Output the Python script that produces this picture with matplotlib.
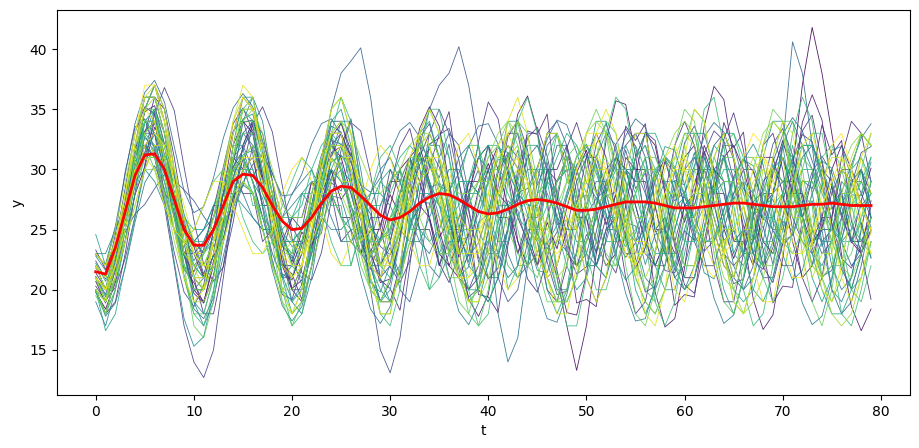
import numpy as np
import matplotlib
matplotlib.use('Agg')
import matplotlib.pyplot as plt

t = list(range(80))

# mean of all runs (red line)
mean_y = [21.5, 21.3, 23.5, 26.5, 29.5, 31.2, 31.3, 30.0, 27.5, 25.0,
          23.7, 23.7, 25.0, 27.0, 29.0, 29.6, 29.5, 28.5, 27.0, 25.7,
          25.0, 25.1, 26.0, 27.2, 28.2, 28.6, 28.5, 27.8, 27.0, 26.2,
          25.8, 26.0, 26.5, 27.2, 27.7, 28.0, 27.9, 27.5, 27.0, 26.5,
          26.3, 26.4, 26.7, 27.1, 27.4, 27.5, 27.4, 27.2, 26.9, 26.6,
          26.6, 26.7, 26.9, 27.1, 27.3, 27.3, 27.3, 27.2, 27.0, 26.8,
          26.8, 26.8, 26.9, 27.0, 27.1, 27.2, 27.2, 27.1, 27.0, 26.9,
          26.9, 26.9, 27.0, 27.1, 27.1, 27.2, 27.1, 27.0, 27.0, 27.0]

# single runs
runs = [
    [20,18,21,26,31,35,37,34,29,24, 20,19,22,27,32,34,33,29,25,22,
     21,23,27,30,32,31,28,25,23,24, 27,30,31,29,26,23,22,24,28,31,
     32,30,27,24,22,23,26,29,31,30, 27,24,22,23,27,31,33,32,28,24,
     21,21,24,28,31,32,30,27,24,23, 26,30,37,41.8,38,33,28,24,23,25],
    [19.8,18.4,20.6,24.1,27.9,30.2,33.5,32.1,29.4,25.2, 23.6,21.1,22.8,24.3,27.6,30.9,29.4,30.8,27.1,24.5,
     22.3,24.8,23.6,27.2,29.9,27.5,28.7,25.9,23.1,25.4, 27.9,26.2,29.8,31.4,28.6,24.3,25.9,22.7,24.6,28.3,
     30.5,27.9,31.2,28.4,24.7,22.1,25.6,23.4,26.8,29.7, 31.6,28.2,25.4,27.9,24.3,21.8,23.5,26.9,30.7,28.1,
     25.6,28.8,31.5,29.2,25.1,22.6,24.9,27.3,25.8,29.6, 32.4,29.5,26.1,23.7,25.2,28.6,26.3,23.9,27.4,30.1],
    [21,19,22,27,32,36,36,33,28,23, 20,20,23,28,33,36,35,31,26,22,
     20,22,26,30,33,33,30,26,23,22, 24,28,31,32,29,25,22,21,23,27,
     30,32,30,26,24,22,24,21,17,13.3, 17,23,28,31,30,27,24,22,24,28,
     31,32,29,25,22,21,24,28,31,31, 28,24,21,22,26,30,32,30,27,25],
    [20.7,18.9,21.6,26.3,31.2,34.8,35.3,32.1,27.6,22.9, 19.7,18.9,21.2,25.8,30.6,33.9,34.1,31.2,26.7,22.4,
     20.1,20.8,24.3,28.9,32.7,33.8,31.6,27.3,23.1,20.6, 20.9,24.2,29.1,33.4,35.2,33.6,28.9,23.4,19.2,17.8,
     19.6,24.3,30.1,34.6,36.1,33.2,27.4,21.6,18.1,17.9, 21.3,26.8,32.4,35.7,35.4,31.2,25.3,19.8,16.9,17.6,
     21.8,27.9,33.6,36.9,35.8,30.9,24.6,19.2,16.7,17.9, 22.6,28.4,33.9,36.2,34.1,28.7,22.9,18.6,16.6,18.4],
    [22,20,23,25,30,31,34,30,28,23, 23,21,25,26,31,30,31,27,27,24,
     26,25,29,28,30,26,26,23,25,25, 29,29,31,27,26,22,24,24,29,29,
     32,28,27,23,25,25,30,30,32,27, 26,22,25,26,31,30,30,25,25,23,
     27,28,32,30,29,24,24,22,27,28, 31,28,28,24,26,26,30,29,30,26],
    [21.4,20.1,22.7,27.4,31.8,33.2,33.9,29.8,26.4,21.7, 20.6,18.9,22.4,25.1,30.2,31.6,33.7,29.4,27.6,22.1,
     21.3,19.2,23.6,25.8,31.4,31.9,34.2,28.7,26.9,20.8, 20.1,18.3,23.2,26.4,32.1,32.6,34.8,28.9,25.7,19.6,
     19.4,18.1,23.7,27.3,33.2,32.9,34.6,27.8,24.6,18.9, 19.2,18.6,24.4,28.1,33.6,32.4,33.8,26.9,23.8,18.7,
     19.6,19.4,25.2,28.9,33.9,31.8,33.1,26.2,23.4,18.9, 20.3,20.2,25.9,29.3,33.7,31.2,32.4,25.7,23.1,19.2],
    [20,18,19,23,28,33,36,35,31,26, 21,18,18,22,27,32,34,33,29,24,
     20,19,22,27,31,33,31,27,22,19, 19,22,27,31,33,31,27,22,20,21,
     25,30,33,33,29,24,20,19,22,27, 31,33,31,26,21,18,19,23,28,32,
     34,32,27,22,19,19,23,28,32,33, 30,25,21,19,21,26,31,34,33,29],
    [23.3,21.7,23.9,28.4,33.1,35.2,34.6,30.3,26.1,22.8, 21.5,23.4,26.7,30.2,33.8,35.1,33.2,29.4,24.6,21.3,
     20.8,23.7,27.9,31.2,32.6,29.8,26.4,23.1,21.7,24.2, 28.5,31.9,33.4,30.1,25.8,22.2,20.6,22.9,27.5,32.3,
     35.6,34.2,29.7,24.1,20.9,19.8,22.6,27.3,31.8,33.9, 31.2,26.5,22.7,21.4,24.8,29.6,33.1,32.4,28.3,23.6,
     20.4,19.7,23.2,28.1,32.5,34.7,31.6,26.2,21.9,20.6, 23.8,28.9,33.2,34.5,30.6,25.3,21.7,20.1,22.9,27.4],
    [23,22,25,27,32,32,33,28,27,23, 24,23,27,27,30,28,28,24,25,23,
     26,26,29,27,28,24,25,23,26,26, 30,28,29,25,25,22,25,25,29,28,
     30,26,26,23,26,26,30,29,30,26, 26,23,26,26,30,29,29,25,26,24,
     27,27,30,28,28,24,25,24,28,28, 31,28,28,24,25,25,28,28,30,27],
    [20.3,19.1,20.2,22.6,26.1,30.4,34.6,36.8,34.9,30.2, 25.8,22.1,20.7,21.9,25.6,30.1,33.8,35.2,33.1,28.7,
     24.3,21.4,20.8,23.1,27.4,31.6,33.9,33.2,29.6,25.1, 21.9,20.6,22.4,26.3,30.2,32.9,33.4,30.8,26.5,22.7,
     20.9,21.8,25.2,29.4,32.6,33.5,31.1,27.2,23.4,21.3, 21.9,24.8,28.7,32.1,33.4,31.9,28.3,24.2,21.6,21.4,
     23.9,27.8,31.3,33.2,32.4,29.1,25.3,22.4,21.7,23.5, 27.2,30.8,32.9,32.3,29.4,25.6,22.6,21.8,23.6,26.9],
    [21,19,21,25,29,32,31,27,22,17, 14,12.7,15,21,27,32,34,32,28,23,
     20,20,23,28,32,33,31,27,23,21, 22,25,29,31,31,28,24,21,20,22,
     26,30,32,31,27,23,21,22,25,29, 31,31,28,25,23,23,26,29,31,30,
     27,24,22,22,25,28,30,30,27,24, 22,22,25,28,30,29,26,24,24,26],
    [22.4,20.9,24.6,29.8,33.5,34.2,31.6,27.3,23.1,19.8, 18.6,20.4,24.9,29.6,33.2,34.1,31.3,26.8,22.4,19.6,
     19.2,21.8,26.1,30.5,33.6,33.1,29.4,24.7,20.9,19.1, 20.6,24.3,28.9,32.6,33.8,30.9,26.2,21.7,19.4,20.1,
     23.8,28.6,32.7,34.1,31.6,26.9,22.3,19.6,19.9,23.2, 27.9,32.1,33.8,31.5,27.2,22.6,19.8,20.3,23.9,28.4,
     32.2,33.6,31.4,27.3,23.1,20.5,20.9,24.3,28.6,32.1, 33.4,31.2,27.4,23.5,21.1,21.6,24.8,28.7,31.4,31.9],
    [22,20,22,26,29,31,31,29,26,24, 23,24,26,29,31,31,29,26,23,21,
     21,23,27,31,34,34,31,26,20,15, 13.1,16,22,28,33,35,33,29,24,20,
     19,21,25,30,33,33,30,26,23,22, 24,27,30,31,29,26,23,22,24,27,
     30,31,29,26,23,22,23,26,29,30, 29,26,24,23,25,28,30,30,28,26],
    [21.8,21.2,22.9,24.8,26.3,27.1,28.4,29.6,29.1,28.3, 27.4,26.1,24.9,25.6,26.8,28.9,30.4,31.2,29.7,27.5,
     25.2,23.8,24.6,26.9,29.3,31.1,30.6,28.2,25.4,23.6, 22.9,24.7,27.8,30.4,31.7,30.2,27.1,24.3,22.8,23.9,
     26.5,29.8,31.4,30.1,27.2,24.6,23.4,24.8,27.6,30.3, 31.9,30.4,27.3,24.1,22.7,23.9,26.8,29.5,30.8,29.6,
     27.1,24.5,23.2,24.1,26.7,29.4,30.9,29.8,27.3,24.9, 23.7,24.6,27.2,29.8,31.1,29.7,26.9,24.3,23.1,24.8],
    [21,20,23,27,30,32,31,28,25,23, 22,23,25,28,30,31,29,26,24,22,
     22,24,27,29,30,29,27,24,22,21, 23,26,29,32,35,37,38,40.2,37,32,
     26,21,19,20,24,29,33,34,32,28, 22,22,25,29,32,33,31,27,23,21,
     22,25,29,32,33,31,27,23,21,21, 24,28,31,32,30,27,24,22,23,26],
    [21.1,19.6,22.4,25.8,30.7,31.4,34.9,31.2,29.8,25.4, 24.1,21.3,23.7,23.9,27.8,28.6,31.9,28.4,27.1,23.6,
     22.8,20.4,23.9,24.7,28.9,28.2,31.4,27.6,26.3,22.1, 23.5,21.2,25.6,26.8,30.9,29.3,32.1,27.4,26.8,22.3,
     24.1,22.6,26.9,27.4,31.2,28.7,30.6,25.4,25.8,21.9, 24.6,23.2,27.8,28.1,31.6,28.4,29.7,24.8,25.2,21.6,
     24.9,24.1,28.6,28.3,31.2,27.5,28.9,24.1,25.3,22.1, 25.7,24.9,29.1,28.4,30.8,26.7,28.1,23.9,25.6,22.7],
    [22,21,23,26,30,33,34,32,28,24, 21,20,22,26,30,33,34,32,29,26,
     24,24,27,31,35,38,39,40.1,36,30, 24,20,19,22,27,31,33,32,28,24,
     21,21,24,28,31,32,30,27,24,22, 23,26,29,31,30,27,24,22,22,25,
     28,30,30,27,24,21,20,22,26,30, 32,31,28,25,23,24,26,29,30,28],
    [20,19,22,26,31,34,34,31,27,23, 21,21,24,28,31,33,32,29,26,24,
     24,25,27,28,28,26,24,23,24,27, 29,30,28,25,22,21,23,26,29,31,
     30,27,23,21,22,25,29,32,32,29, 25,22,21,24,28,31,32,29,25,22,
     20,21,25,29,32,32,29,25,22,25, 32,40.6,38,32,25,20,18,19,22,26],
    [22.9,22.1,25.3,29.6,33.8,36.4,37.4,35.6,31.9,28.2, 26.4,26.9,29.3,32.6,35.1,36.3,35.2,32.4,29.6,27.8,
     27.9,29.6,32.1,33.8,34.2,32.9,30.6,28.7,28.1,29.3, 31.4,33.2,33.9,32.7,30.4,28.6,28.2,29.7,31.9,33.6,
     33.8,32.1,29.7,28.1,28.4,30.2,32.5,34.1,33.7,31.4, 28.9,27.6,28.3,30.4,32.8,34.2,33.5,31.2,28.7,27.4,
     28.1,30.3,32.7,33.9,33.1,30.8,28.4,27.3,28.2,30.6, 32.9,34.3,33.2,30.7,28.3,27.2,28.1,30.4,32.6,33.8],
    [21,20,22,27,31,34,33,30,26,22, 20,21,24,28,31,32,30,27,24,22,
     22,24,27,30,31,30,27,24,22,22, 24,27,30,31,29,26,23,24,28,30,
     25,18,14,16,22,28,32,33,30,26, 23,22,24,27,30,30,28,25,23,23,
     25,28,30,30,28,25,23,23,25,28, 29,29,27,25,24,25,27,29,29,27],
    [22,21,24,27,31,33,33,30,27,25, 24,25,26,28,29,28,26,25,25,26,
     28,29,30,28,26,24,24,25,28,30, 31,29,26,24,23,25,28,31,32,30,
     26,23,21,22,26,30,33,33,30,25, 21,19,21,25,30,33,33,29,25,21,
     20,22,26,30,31,29,26,23,22,24, 28,31,32,30,26,22,20,21,25,29],
    [19.9,17.8,18.9,21.8,25.6,28.9,30.3,28.4,24.9,21.2, 18.4,17.6,19.3,22.8,26.4,28.7,28.1,25.2,21.6,18.7,
     17.4,18.6,21.9,25.3,27.8,27.6,24.9,21.3,18.4,17.2, 18.6,21.7,25.1,27.3,27.2,24.6,21.1,18.2,17.1,18.9,
     22.3,25.6,27.4,26.6,23.6,20.1,17.6,17.3,19.6,23.1, 26.2,27.6,26.3,23.1,19.7,17.4,17.6,20.4,23.9,26.8,
     27.7,25.9,22.6,19.3,17.2,17.9,20.9,24.4,27.1,27.5, 25.4,22.1,18.9,17.1,17.8,20.8,24.2,26.9,27.3,25.2],
    [19,17,20,25,30,35,37,35,30,24, 19,17,19,24,29,34,36,34,29,23,
     19,18,21,26,31,34,34,30,25,21, 19,21,25,29,32,32,29,25,22,21,
     23,27,31,33,31,27,23,20,20,23, 27,31,33,32,28,24,21,20,22,26,
     30,33,33,30,26,22,20,21,24,28, 32,34,32,28,24,20,19,21,25,29],
    [22.8,21.6,23.2,26.9,30.1,32.8,31.4,29.6,26.2,24.9, 22.4,23.8,25.1,28.6,29.3,31.7,28.9,27.6,24.1,23.8,
     22.6,25.3,26.4,29.7,29.1,30.6,26.8,25.9,22.7,24.3, 24.6,28.2,28.1,31.3,28.4,28.9,24.6,24.8,22.3,25.6,
     26.3,30.1,28.9,31.6,27.1,26.8,22.9,24.1,23.2,27.4, 27.9,31.2,28.6,30.4,25.6,25.3,22.1,24.6,24.9,29.1,
     28.7,31.4,27.2,28.6,24.1,24.9,22.8,26.3,26.7,30.4, 28.9,30.6,26.1,27.4,23.6,25.2,24.1,27.9,27.8,30.6],
    [23,23,25,27,29,30,29,27,25,24, 24,25,27,28,28,27,26,25,25,26,
     27,28,27,26,25,25,26,27,28,28, 27,25,24,24,26,28,30,30,28,25,
     23,23,25,28,30,30,28,26,25,25, 27,29,29,27,25,24,25,27,29,29,
     28,26,24,24,26,28,29,28,26,25, 25,27,29,29,27,25,24,25,27,28],
    [21.1,19.4,21.8,25.9,30.2,32.6,31.9,27.8,22.3,17.6, 15.3,16.1,19.8,25.4,30.9,34.2,34.6,31.4,26.1,21.2,
     19.1,20.4,24.6,29.3,32.4,32.1,28.6,24.1,20.6,19.8, 22.1,26.4,30.3,32.2,30.9,27.1,23.2,21.1,21.9,25.3,
     29.2,31.8,31.4,28.1,24.2,21.6,21.4,24.1,27.9,31.1, 32.1,30.2,26.3,22.6,20.8,21.9,25.4,29.3,31.9,31.6,
     28.7,24.6,21.4,20.9,23.2,27.3,30.8,32.1,30.4,26.6, 22.9,20.8,21.6,24.9,28.8,31.6,31.9,29.3,25.4,22.6],
    [21,19,23,26,32,33,35,30,27,22, 21,20,24,27,32,32,33,28,26,21,
     22,22,27,29,33,30,29,24,24,22, 26,27,31,28,28,23,25,23,28,28,
     32,27,27,22,25,24,29,28,31,26, 27,22,25,25,30,29,31,25,26,22,
     26,26,31,28,29,23,25,23,28,28, 32,27,26,22,24,24,29,28,30,26],
    [22.2,20.7,22.3,25.1,28.6,31.4,32.9,32.1,29.4,26.3, 23.9,23.1,24.3,26.8,29.4,31.2,31.6,29.9,27.2,24.8,
     23.6,23.9,25.8,28.4,30.6,31.2,29.8,27.4,25.1,24.2, 25.1,27.4,29.8,31.1,30.4,28.2,25.6,24.1,24.4,26.3,
     28.9,30.8,30.9,28.9,26.2,24.1,23.8,25.4,28.1,30.4, 31.2,29.7,27.1,24.6,23.6,24.7,27.2,29.8,31.1,30.2,
     27.8,25.3,23.9,24.4,26.6,29.2,30.8,30.3,28.1,25.6, 24.1,24.5,26.7,29.3,30.7,30.1,27.8,25.2,24.1,24.9],
    [20,18,20,24,29,34,35,33,28,23, 19,18,21,26,32,36,36,32,26,21,
     18,19,24,29,34,35,32,27,22,19, 20,24,29,33,34,31,26,21,19,20,
     25,30,34,34,30,25,20,18,20,25, 30,34,34,30,25,20,18,20,25,30,
     33,33,29,24,20,18,21,26,31,34, 34,30,25,21,19,21,26,30,33,32],
    [24.6,22,24,28,31,34,34,31,28,26, 25,25,27,29,30,30,28,26,25,25,
     26,28,29,29,28,26,25,25,27,29, 30,29,27,25,24,25,27,29,29,28,
     26,24,24,26,28,30,30,28,26,24, 24,26,28,30,30,28,25,23,23,25,
     28,31,31,29,26,23,22,24,27,30, 31,29,26,23,22,24,27,30,31,29],
    [20,16.6,18,22,26,30,32,31,28,25, 22,21,22,25,28,31,32,31,28,25,
     22,21,23,26,30,32,32,29,25,22, 21,22,25,29,32,33,31,27,23,20,
     19,21,25,29,32,32,29,25,22,20, 21,24,28,31,32,30,26,22,20,20,
     23,27,30,32,31,27,23,20,19,21, 25,29,32,32,29,25,22,20,21,24],
    [22,21,23,27,30,33,32,29,25,22, 20,20,23,27,30,31,29,25,22,20,
     19,20,23,26,29,30,28,25,22,20, 19,21,24,27,28,27,25,22,20,20,
     22,25,27,28,27,24,21,19,19,21, 24,27,28,27,24,21,19,18,20,23,
     26,28,28,26,23,20,19,20,23,26, 28,28,26,23,20,18,18,20,23,26],
    [21,20,24,28,33,36,36,33,29,26, 24,24,26,30,33,35,34,31,28,26,
     26,27,30,32,33,32,30,28,27,27, 29,31,32,31,29,27,26,27,29,31,
     32,32,30,28,27,27,29,31,33,32, 30,28,26,26,28,31,33,33,31,28,
     26,26,28,31,33,33,31,28,26,26, 28,31,32,32,30,28,27,27,29,31],
    [20,18,21,24,28,31,32,30,27,24, 22,21,22,25,28,30,30,28,26,24,
     24,25,27,29,30,29,27,25,24,24, 26,28,30,30,29,27,26,26,27,29,
     30,30,28,26,25,25,27,29,30,30, 28,26,24,24,26,28,30,30,29,26,
     24,24,25,28,30,30,28,26,24,24, 26,28,30,30,28,26,24,24,26,28],
    [22,20,22,27,29,34,33,31,26,25, 21,23,24,29,29,31,27,27,22,24,
     23,28,28,31,27,27,22,25,24,29, 28,30,25,25,20,23,23,29,29,32,
     27,26,20,22,22,28,29,33,29,28, 22,22,21,26,28,32,30,29,23,22,
     21,25,27,31,29,29,23,23,22,27, 28,32,28,27,21,22,22,27,28,31],
    [21,19,21,26,30,34,35,32,27,21, 18,17,20,25,31,35,36,32,26,20,
     17,18,22,28,33,36,34,29,23,18, 17,20,26,31,35,35,31,25,20,17,
     18,23,29,34,36,33,27,21,17,17, 21,27,33,36,35,30,24,19,17,19,
     24,30,35,36,32,26,20,17,18,22, 28,33,36,34,29,23,18,17,20,24],
    [23,22,24,28,31,32,30,27,25,24, 25,27,29,30,29,26,24,23,24,27,
     29,31,30,27,24,22,22,25,28,31, 32,30,26,22,20,21,25,29,32,32,
     29,25,22,21,23,27,31,33,31,27, 23,20,20,23,28,31,32,30,26,22,
     20,21,25,29,32,33,30,25,21,19, 21,25,30,33,33,29,24,20,19,22],
    [20,19,22,25,29,33,34,32,28,25, 23,22,24,27,31,33,33,30,27,24,
     23,24,27,30,32,32,30,27,25,24, 25,28,30,32,31,29,27,25,25,27,
     29,31,31,29,27,25,25,26,29,31, 32,30,28,25,24,25,27,30,31,30,
     28,25,24,24,26,29,31,31,29,26, 24,23,25,28,31,32,30,27,24,23],
    [22,20,23,27,32,35,35,31,26,21, 18,18,21,26,31,34,34,30,24,19,
     17,19,24,30,35,36,33,27,21,18, 18,22,28,33,35,33,28,22,18,17,
     20,26,31,34,33,29,24,20,19,21, 26,31,34,33,29,24,20,19,22,27,
     32,35,34,29,23,19,18,21,26,31, 34,34,30,25,21,19,21,25,30,33],
    [21,20,22,26,29,31,31,29,26,23, 22,23,26,29,31,31,29,25,22,20,
     21,24,28,31,32,30,26,22,20,21, 25,29,31,31,28,24,21,21,24,28,
     31,32,29,25,22,21,24,28,31,32, 30,26,23,22,24,28,31,31,29,25,
     22,22,25,28,31,31,28,25,23,23, 26,29,31,30,27,24,22,23,26,29],
    [19.5,18,20,25,31,35,37,34,28,22, 17,16,19,25,31,35,35,31,25,20,
     18,20,25,30,33,33,29,24,20,19, 21,26,31,33,32,28,23,19,18,21,
     27,32,34,32,27,22,19,19,23,28, 33,35,33,28,22,18,17,20,26,32,
     35,34,29,23,19,18,21,27,32,35, 34,29,23,19,17,20,25,30,33,32],
    [22,21,24,28,32,34,34,31,27,24, 22,22,24,26,28,29,28,26,24,23,
     23,25,27,28,28,26,24,23,23,24, 26,27,27,26,24,23,23,25,27,29,
     29,28,25,23,22,23,26,29,31,30, 27,24,22,22,25,28,30,30,27,24,
     22,22,24,27,29,29,27,24,22,22, 24,27,29,29,27,24,22,21,23,26],
    [21,19,21,24,27,30,30,28,25,22, 20,20,22,25,28,29,28,25,22,20,
     20,22,26,29,31,30,27,23,20,19, 21,25,29,32,32,29,25,21,19,20,
     24,28,31,32,29,25,21,19,20,23, 27,30,31,29,25,22,20,21,24,28,
     30,30,28,24,21,20,22,25,28,30, 29,27,24,22,21,22,25,28,29,28],
    [20,18,21,26,31,35,36,34,30,26, 23,22,24,27,31,34,35,33,30,27,
     26,26,28,31,33,34,33,31,29,28, 29,30,32,33,33,31,29,28,28,29,
     31,33,34,33,31,29,27,27,29,31, 33,34,33,31,28,26,26,28,31,33,
     34,33,30,27,25,25,27,30,33,34, 33,30,27,25,25,27,30,32,33,32],
    [22,21,23,26,29,31,31,28,24,21, 19,19,21,24,27,29,28,25,22,19,
     18,19,22,25,28,28,26,23,20,19, 19,21,24,26,27,26,23,21,19,19,
     21,24,26,27,26,23,21,19,19,21, 24,27,28,27,24,21,19,18,20,23,
     26,28,28,26,23,20,18,19,21,24, 27,28,27,24,21,18,17,18,21,24],
    [23,22,25,29,33,36,36,33,29,25, 23,23,26,30,34,36,35,32,28,24,
     22,23,26,30,33,34,32,28,24,22, 22,25,29,32,33,31,27,23,21,22,
     26,30,33,34,31,27,23,21,22,26, 30,33,33,30,26,22,21,23,27,31,
     33,32,29,25,22,21,24,28,32,34, 33,29,25,22,21,24,28,31,33,32],
    [21,19,22,26,30,33,34,31,28,23, 22,20,24,26,30,31,32,28,27,23,
     24,23,28,28,31,29,29,24,25,22, 26,25,30,29,31,27,28,23,25,23,
     28,27,31,28,29,24,26,22,26,25, 30,28,30,25,26,21,24,23,28,28,
     32,28,29,23,24,21,25,25,30,29, 31,26,26,21,23,23,28,28,31,28],
    [20,19,23,27,32,36,37,35,30,25, 21,20,22,27,32,35,35,32,27,23,
     21,22,25,29,32,32,30,26,23,22, 23,26,29,31,31,28,25,23,23,25,
     28,31,32,30,27,24,23,24,27,30, 32,32,29,26,23,22,24,27,30,31,
     30,27,24,22,23,26,29,31,31,28, 25,23,23,26,29,31,31,28,25,23],
    [22,20,21,24,27,30,32,32,30,27, 24,22,22,24,27,30,31,31,29,26,
     24,23,24,26,29,31,31,29,27,25, 24,25,27,29,30,30,28,26,25,25,
     26,28,29,30,29,27,25,24,25,27, 29,30,30,28,26,24,24,26,28,30,
     30,29,27,25,24,25,27,29,30,29, 27,25,24,25,27,29,30,29,27,25],
    [21,20,23,28,32,35,34,30,25,21, 19,20,24,29,34,37,36,31,25,20,
     18,20,25,31,35,36,33,27,21,18, 18,22,28,33,35,33,28,22,19,19,
     23,29,34,36,33,27,21,18,18,22, 28,33,35,33,28,22,18,17,20,26,
     31,35,34,29,23,19,18,21,26,31, 34,33,29,24,20,19,22,27,31,33],
    [23,22,24,27,30,31,30,27,25,24, 25,27,29,29,27,25,23,23,25,28,
     30,31,29,26,23,22,24,27,30,32, 31,28,24,22,22,25,29,32,33,30,
     26,22,20,21,25,30,33,33,30,25, 21,19,21,26,30,33,33,29,24,20,
     19,22,27,31,33,31,27,22,19,19, 23,28,32,33,30,25,21,19,21,25],
    [21,20,22,25,29,32,33,32,29,26, 23,22,23,26,29,31,31,29,26,23,
     22,22,25,28,31,32,31,28,25,23, 22,24,27,30,31,31,28,25,23,23,
     25,28,30,31,29,26,24,23,24,27, 29,31,30,28,25,23,23,25,28,30,
     31,29,26,24,23,24,27,30,31,30, 27,24,23,24,27,29,31,30,27,25],
    [22,21,24,28,33,37,37,34,29,24, 21,21,24,29,33,36,35,31,26,22,
     21,22,26,30,33,33,30,26,22,21, 23,27,31,33,32,28,24,21,21,24,
     28,32,33,31,27,23,21,22,26,30, 33,33,30,26,23,22,24,28,31,32,
     30,26,22,21,23,27,31,33,32,28, 24,21,21,24,28,32,33,30,26,23],
]

fig = plt.figure(figsize=(9.19, 4.48), dpi=100)
ax = fig.add_axes([0.062, 0.118, 0.928, 0.860])

colors = plt.cm.viridis(np.linspace(0, 1, len(runs)))
for run, c in zip(runs, colors):
    ax.plot(t[:len(run)], run[:80], color=c, lw=0.6, alpha=0.9)

ax.plot(t, mean_y, color='red', lw=2)
ax.set_xlabel('t')
ax.set_ylabel('y')

fig.savefig('out.png', dpi=100)
